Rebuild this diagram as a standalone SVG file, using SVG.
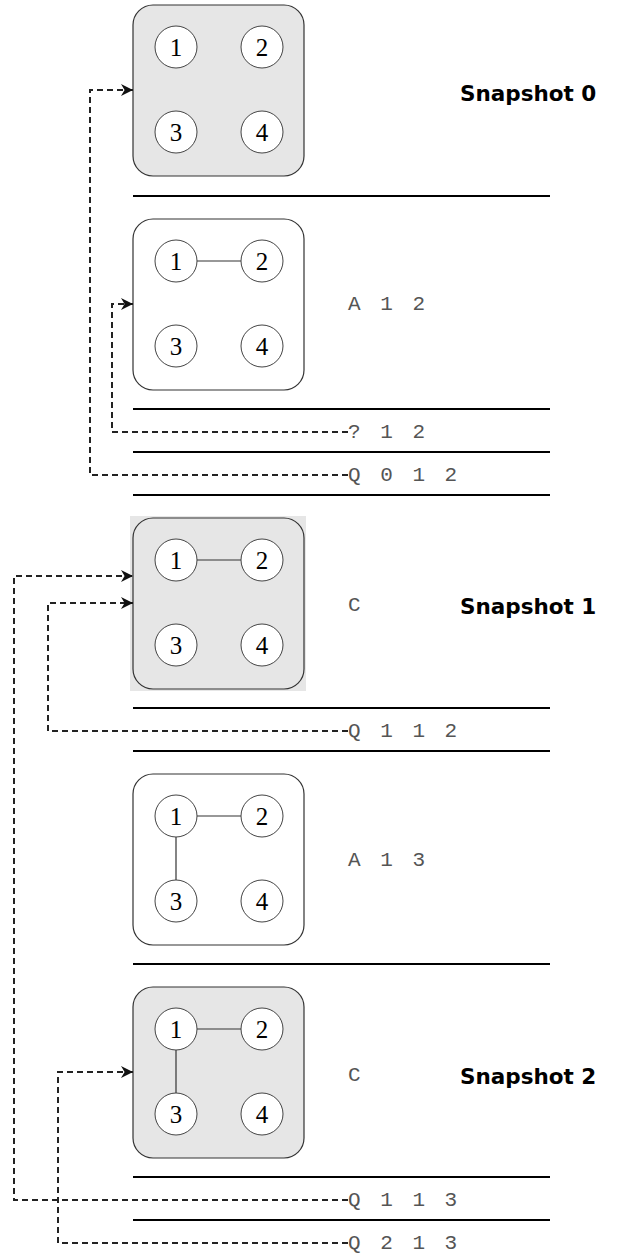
<svg xmlns="http://www.w3.org/2000/svg" width="630" height="1256" viewBox="0 0 630 1256">
<style>
.box{stroke:#333;stroke-width:1.2}
.g{fill:#e6e6e6}
.w{fill:#fff}
.c{fill:#fff;stroke:#444;stroke-width:1}
.n{font-family:"Liberation Serif","DejaVu Serif",serif;font-size:25px;fill:#000;text-anchor:middle;dominant-baseline:central}
.e{stroke:#333;stroke-width:1.2}
.sep{stroke:#000;stroke-width:2}
.m{font-family:"Liberation Mono","Courier New",monospace;font-size:21px;fill:#555;word-spacing:7px;dominant-baseline:central}
.s{font-family:"DejaVu Sans",Verdana,sans-serif;font-weight:bold;font-size:21.5px;fill:#000;dominant-baseline:central}
.d{fill:none;stroke:#222;stroke-width:2;stroke-dasharray:6 4}
</style>
<defs>
<marker id="ah" viewBox="0 0 10 10" refX="10" refY="5" markerWidth="6" markerHeight="6" orient="auto" markerUnits="strokeWidth">
<path d="M0,0 L10,5 L0,10 L3,5 Z" fill="#111"/>
</marker>
<g id="quad">
<circle class="c" cx="43" cy="42" r="21"/>
<circle class="c" cx="129" cy="42" r="21"/>
<circle class="c" cx="43" cy="127" r="21"/>
<circle class="c" cx="129" cy="127" r="21"/>
<text class="n" x="43" y="42">1</text>
<text class="n" x="129" y="42">2</text>
<text class="n" x="43" y="127">3</text>
<text class="n" x="129" y="127">4</text>
</g>
</defs>

<g id="separators">
<line class="sep" x1="133" y1="196" x2="550" y2="196"/>
<line class="sep" x1="133" y1="409" x2="550" y2="409"/>
<line class="sep" x1="133" y1="452" x2="550" y2="452"/>
<line class="sep" x1="133" y1="495" x2="550" y2="495"/>
<line class="sep" x1="133" y1="708" x2="550" y2="708"/>
<line class="sep" x1="133" y1="751" x2="550" y2="751"/>
<line class="sep" x1="133" y1="964" x2="550" y2="964"/>
<line class="sep" x1="133" y1="1177" x2="550" y2="1177"/>
<line class="sep" x1="133" y1="1220" x2="550" y2="1220"/>
</g>

<g id="state0" transform="translate(133,5)">
<rect class="box g" x="0" y="0" width="171" height="171" rx="20"/>
<use href="#quad"/>
</g>
<g id="state1" transform="translate(133,219)">
<rect class="box w" x="0" y="0" width="171" height="171" rx="20"/>
<line class="e" x1="64" y1="42" x2="108" y2="42"/>
<use href="#quad"/>
</g>
<g id="state2" transform="translate(133,518)">
<rect x="-3" y="-2" width="176" height="175" fill="#e6e6e6"/>
<rect class="box g" x="0" y="0" width="171" height="171" rx="20"/>
<line class="e" x1="64" y1="42" x2="108" y2="42"/>
<use href="#quad"/>
</g>
<g id="state3" transform="translate(133,774)">
<rect class="box w" x="0" y="0" width="171" height="171" rx="20"/>
<line class="e" x1="64" y1="42" x2="108" y2="42"/>
<line class="e" x1="43" y1="63" x2="43" y2="106"/>
<use href="#quad"/>
</g>
<g id="state4" transform="translate(133,987)">
<rect class="box g" x="0" y="0" width="171" height="171" rx="20"/>
<line class="e" x1="64" y1="42" x2="108" y2="42"/>
<line class="e" x1="43" y1="63" x2="43" y2="106"/>
<use href="#quad"/>
</g>

<g id="ops">
<text class="m" x="348" y="304">A 1 2</text>
<text class="m" x="348" y="432">? 1 2</text>
<text class="m" x="348" y="475">Q 0 1 2</text>
<text class="m" x="348" y="605">C</text>
<text class="m" x="348" y="731">Q 1 1 2</text>
<text class="m" x="348" y="860">A 1 3</text>
<text class="m" x="348" y="1075">C</text>
<text class="m" x="348" y="1200">Q 1 1 3</text>
<text class="m" x="348" y="1243">Q 2 1 3</text>
</g>

<g id="labels">
<text class="s" x="460" y="93">Snapshot 0</text>
<text class="s" x="460" y="606">Snapshot 1</text>
<text class="s" x="460" y="1076">Snapshot 2</text>
</g>

<g id="connectors">
<path class="d" d="M348,432 H112 V304 H133" marker-end="url(#ah)"/>
<path class="d" d="M348,475 H90 V90 H133" marker-end="url(#ah)"/>
<path class="d" d="M348,731 H48 V603 H133" marker-end="url(#ah)"/>
<path class="d" d="M348,1200 H14 V576 H133" marker-end="url(#ah)"/>
<path class="d" d="M348,1243 H58 V1072 H133" marker-end="url(#ah)"/>
</g>
</svg>
